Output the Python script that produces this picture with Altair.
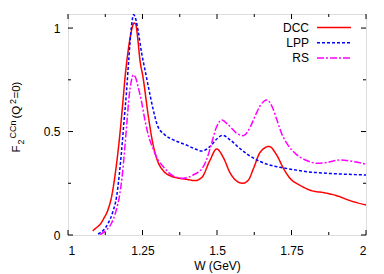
import altair as alt
import pandas as pd

# ---------------- data ----------------
dcc_w = [1.083, 1.095, 1.107, 1.12, 1.135, 1.147, 1.157, 1.166, 1.175, 1.184, 1.192, 1.2, 1.208, 1.215,
         1.221, 1.227, 1.234, 1.241, 1.252, 1.269, 1.285, 1.3, 1.32, 1.345, 1.37, 1.398, 1.426, 1.449,
         1.476, 1.499, 1.521, 1.544, 1.565, 1.586, 1.605, 1.622, 1.645, 1.675, 1.70, 1.723, 1.745,
         1.779, 1.818, 1.857, 1.902, 1.947, 2.0]
dcc_f = [0.02, 0.035, 0.05, 0.08, 0.125, 0.19, 0.28, 0.38, 0.5, 0.64, 0.77, 0.87, 0.95, 1.0,
         1.024, 1.02, 0.95, 0.85, 0.76, 0.58, 0.44, 0.36, 0.31, 0.285, 0.275, 0.269, 0.263, 0.278,
         0.36, 0.416, 0.375, 0.3, 0.262, 0.25, 0.265, 0.32, 0.4, 0.428, 0.387, 0.322, 0.274,
         0.24, 0.214, 0.205, 0.19, 0.166, 0.145]

lpp_w = [1.101, 1.12, 1.135, 1.15, 1.163, 1.172, 1.18, 1.188, 1.196, 1.204, 1.213, 1.22, 1.228, 1.235,
         1.247, 1.258, 1.272, 1.286, 1.3, 1.325, 1.35, 1.375, 1.4, 1.42, 1.449, 1.476, 1.5, 1.519,
         1.544, 1.577, 1.605, 1.645, 1.68, 1.712, 1.76, 1.801, 1.85, 1.913, 1.96, 2.0]
lpp_f = [0.005, 0.025, 0.057, 0.11, 0.185, 0.29, 0.41, 0.55, 0.686, 0.85, 1.008, 1.065, 1.04, 0.99,
         0.88, 0.8, 0.7, 0.605, 0.53, 0.484, 0.462, 0.447, 0.433, 0.42, 0.406, 0.427, 0.465, 0.482,
         0.46, 0.418, 0.387, 0.355, 0.337, 0.327, 0.315, 0.306, 0.3, 0.295, 0.292, 0.29]

rs_w = [1.107, 1.125, 1.146, 1.16, 1.174, 1.183, 1.19, 1.198, 1.205, 1.212, 1.219, 1.227, 1.235,
        1.246, 1.258, 1.272, 1.286, 1.303, 1.32, 1.353, 1.387, 1.42, 1.454, 1.47, 1.482, 1.499,
        1.516, 1.538, 1.566, 1.588, 1.611, 1.628, 1.645, 1.667, 1.685, 1.70, 1.717, 1.734, 1.768,
        1.801, 1.835, 1.868, 1.913, 1.958, 2.0]
rs_f = [0.0, 0.02, 0.057, 0.11, 0.2, 0.3, 0.41, 0.55, 0.669, 0.74, 0.774, 0.76, 0.717,
        0.65, 0.556, 0.47, 0.415, 0.36, 0.33, 0.285, 0.274, 0.29, 0.33, 0.385, 0.444, 0.524,
        0.556, 0.532, 0.492, 0.48, 0.52, 0.575, 0.625, 0.653, 0.62, 0.56, 0.49, 0.444, 0.387,
        0.36, 0.347, 0.35, 0.363, 0.355, 0.342]

series_names = ["DCC", "LPP", "RS"]
series_colors = ["#ff0000", "#0000ff", "#ff00ff"]
series_dash = [[1, 0], [3, 2], [7, 2, 2, 2]]

x_major = [1, 1.25, 1.5, 1.75, 2]
x_minor = [1.125, 1.375, 1.625, 1.875]
y_major = [0, 0.5, 1]
y_minor = [0.25, 0.75]

# ---------------- layout ----------------
W, H = 298, 221
FONT = "Liberation Sans"

rows = []
for name, ws, fs in zip(series_names, [dcc_w, lpp_w, rs_w], [dcc_f, lpp_f, rs_f]):
    for i, (w, f) in enumerate(zip(ws, fs)):
        rows.append({"series": name, "W": w, "F": f, "order": i})
df = pd.DataFrame(rows)

xscale = alt.Scale(domain=[1, 2], nice=False, zero=False)
yscale = alt.Scale(domain=[0, 1.068], nice=False, zero=False)
cscale = alt.Scale(domain=series_names, range=series_colors)
dscale = alt.Scale(domain=series_names, range=series_dash)

lines = alt.Chart(df).mark_line(strokeWidth=1.5, clip=True, interpolate="monotone").encode(
    x=alt.X("W:Q", scale=xscale,
            axis=alt.Axis(values=x_major, labelExpr="format(datum.value, '.3~g')",
                          title="W (GeV)", ticks=False, tickSize=0,
                          domain=False, grid=False, labelPadding=10, titlePadding=4,
                          labelFont=FONT, labelFontSize=12, labelColor="#000",
                          titleFont=FONT, titleFontSize=12, titleFontWeight="normal",
                          titleColor="#000")),
    y=alt.Y("F:Q", scale=yscale,
            axis=alt.Axis(values=y_major, labelExpr="format(datum.value, '.3~g')",
                          title=None, ticks=False, tickSize=0,
                          domain=False, grid=False, labelPadding=8,
                          labelFont=FONT, labelFontSize=12, labelColor="#000")),
    color=alt.Color("series:N", scale=cscale, legend=None),
    strokeDash=alt.StrokeDash("series:N", scale=dscale, legend=None),
    detail="series:N",
    order="order:Q",
)

# inward ticks on all four sides
xmaj = pd.DataFrame({"v": x_major})
xmin = pd.DataFrame({"v": x_minor})
ymaj = pd.DataFrame({"v": y_major})
ymin = pd.DataFrame({"v": y_minor})

def xticks(d, L):
    b = alt.Chart(d).mark_rule(color="#000", strokeWidth=1).encode(
        x=alt.X("v:Q", scale=xscale), y=alt.value(H), y2=alt.value(H - L))
    t = alt.Chart(d).mark_rule(color="#000", strokeWidth=1).encode(
        x=alt.X("v:Q", scale=xscale), y=alt.value(0), y2=alt.value(L))
    return b + t

def yticks(d, L):
    l = alt.Chart(d).mark_rule(color="#000", strokeWidth=1).encode(
        y=alt.Y("v:Q", scale=yscale), x=alt.value(0), x2=alt.value(L))
    r = alt.Chart(d).mark_rule(color="#000", strokeWidth=1).encode(
        y=alt.Y("v:Q", scale=yscale), x=alt.value(W), x2=alt.value(W - L))
    return l + r

ticks = xticks(xmaj, 5) + xticks(xmin, 3) + yticks(ymaj, 5) + yticks(ymin, 3)

# legend (label left of sample line, top right inside)
leg = pd.DataFrame({"series": series_names})
leg_y = [13.5, 28.7, 43.9]
legend_layers = []
for name, yy in zip(series_names, leg_y):
    sub = alt.Chart(leg).transform_filter(alt.datum.series == name)
    legend_layers.append(sub.mark_text(align="right", baseline="middle", font=FONT, fontSize=12,
                                       color="#000").encode(
        text="series:N", x=alt.value(241), y=alt.value(yy)))
    legend_layers.append(sub.mark_rule(strokeWidth=1.5).encode(
        x=alt.value(249), x2=alt.value(283), y=alt.value(yy),
        color=alt.Color("series:N", scale=cscale, legend=None),
        strokeDash=alt.StrokeDash("series:N", scale=dscale, legend=None)))

# y-axis title with sub/superscripts: (text, size, start y, baseline x)
title_parts = [
    ("F", 11.5, 138.5, -48),
    ("2", 9, 130.5, -44.5),
    ("CCn", 9, 124.5, -52),
    ("(Q", 11.5, 104.5, -48),
    ("2", 9, 90.0, -52),
    ("=0)", 11.5, 84.5, -48),
]
tdf = pd.DataFrame({"t": [p[0] for p in title_parts]})
title_layers = []
for i, (txt, fs, yy, xx) in enumerate(title_parts):
    title_layers.append(
        alt.Chart(tdf.iloc[[i]]).mark_text(align="left", baseline="alphabetic", angle=270,
                                           font=FONT, fontSize=fs, color="#000").encode(
            text="t:N", x=alt.value(xx), y=alt.value(yy)))

chart = alt.layer(lines, ticks, *legend_layers, *title_layers).properties(
    width=W, height=H,
    autosize=alt.AutoSizeParams(type="none"),
    padding={"left": 60, "top": 6, "right": 10, "bottom": 39},
).configure_view(stroke="#000", strokeWidth=1).configure(background="white")

chart.save("out.html", embed_options={"renderer": "svg", "actions": False})
